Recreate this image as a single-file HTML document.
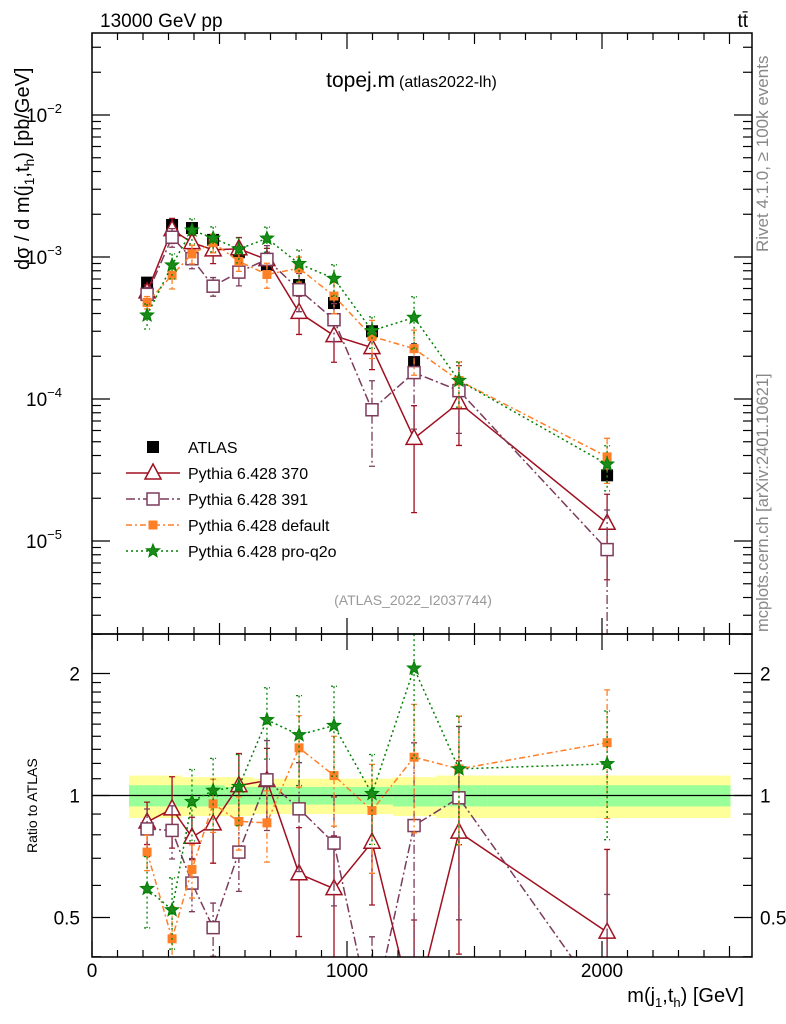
<!DOCTYPE html>
<html><head><meta charset="utf-8"><style>
html,body{margin:0;background:#fff;width:786px;height:1024px;overflow:hidden}
svg{display:block}
svg text{font-family:"Liberation Sans",sans-serif}
</style></head><body>
<svg id="c" width="786" height="1024" xmlns="http://www.w3.org/2000/svg">
<defs>
<clipPath id="cm"><rect x="92" y="33" width="660" height="601"/></clipPath>
<clipPath id="cr"><rect x="92" y="634" width="660" height="323"/></clipPath>
</defs>
<g id="bands" clip-path="url(#cr)"></g>
<g id="marks"></g>
<rect x="92" y="33" width="660" height="601" fill="none" stroke="#000" stroke-width="1.5"/>
<rect x="92" y="634" width="660" height="323" fill="none" stroke="#000" stroke-width="1.5"/>
<g id="axes"></g>
<text x="100" y="27" font-size="19">13000 GeV pp</text>
<text x="748" y="27" font-size="19" text-anchor="end">tt̄</text>
<text x="395" y="87" font-size="21" text-anchor="end">topej.m</text>
<text x="399" y="87" font-size="16">(atlas2022-lh)</text>
<text x="413" y="605" font-size="14" fill="#999" text-anchor="middle">(ATLAS_2022_I2037744)</text>
<text transform="translate(768,252) rotate(-90)" font-size="17" fill="#888">Rivet 4.1.0, ≥ 100k events</text>
<text transform="translate(768,632) rotate(-90)" font-size="16.5" fill="#888">mcplots.cern.ch [arXiv:2401.10621]</text>
<text transform="translate(29,270) rotate(-90)" font-size="20">dσ / d m(j<tspan font-size="14" dy="5">1</tspan><tspan dy="-5">,t</tspan><tspan font-size="14" dy="5">h</tspan><tspan dy="-5">) [pb/GeV]</tspan></text>
<text transform="translate(37,853) rotate(-90)" font-size="14">Ratio to ATLAS</text>
<text x="744" y="1002" font-size="20" text-anchor="end">m(j<tspan font-size="13" dy="5">1</tspan><tspan dy="-5">,t</tspan><tspan font-size="13" dy="5">h</tspan><tspan dy="-5">) [GeV]</tspan></text>
<g id="legend"></g>
</svg>
<script>
const centers=[216,314,392,475,576,686,812,949,1098,1263,1439,2020];
const edges=[145,265,350,430,520,630,750,880,1020,1180,1350,1550,2502];
const atlas=[6.6e-4,1.68e-3,1.6e-3,1.32e-3,1.08e-3,8.8e-4,6.35e-4,4.74e-4,3.0e-4,1.82e-4,1.16e-4,2.9e-5];
const atlasErr=[0.06,0.06,0.05,0.05,0.05,0.05,0.06,0.07,0.08,0.09,0.1,0.12];
const bandYellow=[0.12,0.12,0.11,0.11,0.11,0.1,0.1,0.1,0.1,0.11,0.12,0.12];
const bandGreen=[0.06,0.06,0.06,0.06,0.05,0.05,0.05,0.05,0.05,0.06,0.06,0.06];
const r370=[0.86,0.927,0.789,0.851,1.058,1.089,0.641,0.589,0.767,0.29,0.812,0.46];
const e370=[0.12,0.2,0.12,0.2,0.2,0.2,0.3,0.35,0.3,0.7,0.5,0.6];
const r391=[0.827,0.82,0.608,0.472,0.725,1.093,0.927,0.763,0.28,0.843,0.987,0.30];
const e391=[0.12,0.15,0.15,0.15,0.2,0.25,0.3,0.3,0.6,0.6,0.5,0.9];
const rDef=[0.725,0.443,0.657,0.954,0.863,0.856,1.311,1.12,0.918,1.243,1.163,1.35];
const eDef=[0.1,0.2,0.15,0.15,0.15,0.2,0.2,0.25,0.3,0.35,0.35,0.35];
const rPro=[0.589,0.522,0.966,1.029,1.052,1.537,1.411,1.488,1.01,2.06,1.163,1.197];
const ePro=[0.2,0.2,0.2,0.2,0.2,0.2,0.25,0.25,0.25,0.4,0.35,0.35];
const xTicks=[0,1000,2000];
const yTicks=[-5,-4,-3,-2];
const rTicks=[0.5,1,2];

const NS="http://www.w3.org/2000/svg";
const X=v=>92+v*0.255;
const Y=v=>115+(-2-Math.log10(v))*142;
const R=v=>795.5-Math.log2(v)*122;
function el(t,a,p){const e=document.createElementNS(NS,t);for(const k in a)e.setAttribute(k,a[k]);(p||document.getElementById('marks')).appendChild(e);return e;}

const bg=document.getElementById('bands');
edges.slice(0,-1).forEach((lo,i)=>{
 const hi=edges[i+1];
 const y=el('rect',{x:X(lo),y:R(1+bandYellow[i]),width:X(hi)-X(lo)+0.5,height:R(1-bandYellow[i])-R(1+bandYellow[i]),fill:'#ffff99'},bg);
 
 
 const g=el('rect',{x:X(lo),y:R(1+bandGreen[i]),width:X(hi)-X(lo)+0.5,height:R(1-bandGreen[i])-R(1+bandGreen[i]),fill:'#99ff99'},bg);
 
 
});
const one=el('line',{x1:92,x2:752,y1:R(1),y2:R(1),stroke:'#000','stroke-width':1.2},bg);



function marker(kind,col,x,y,g,leg){
 let m;
 if(kind==='atlas')m=el('rect',{x:x-6,y:y-6,width:12,height:12,fill:'#000'},g);
 else if(kind==='tri')m=el('polygon',{points:`${x},${y-9} ${x-8},${y+6} ${x+8},${y+6}`,fill:'#fff',stroke:col,'stroke-width':1.5},g);
 else if(kind==='sq')m=el('rect',{x:x-6,y:y-6,width:12,height:12,fill:'#fff',stroke:col,'stroke-width':1.5},g);
 else if(kind==='fsq')m=el('rect',{x:x-4.5,y:y-4.5,width:9,height:9,fill:col},g);
 else{let p=[];for(let i=0;i<10;i++){const a=-Math.PI/2+i*Math.PI/5,rr=i%2?3:7;p.push((x+rr*Math.cos(a)).toFixed(1)+','+(y+rr*Math.sin(a)).toFixed(1));}
  m=el('polygon',{points:p.join(' '),fill:'#1a8a1a',stroke:col,'stroke-width':1},g);}
 
 
}

const series=[
 {r:r370,e:e370,col:'#a01020',dash:'',kind:'tri',name:'Pythia 6.428 370',id:'pythia-370'},
 {r:r391,e:e391,col:'#7b3b5b',dash:'9,3,2,3',kind:'sq',name:'Pythia 6.428 391',id:'pythia-391'},
 {r:rDef,e:eDef,col:'#ff7f27',dash:'6,3,2,3',kind:'fsq',name:'Pythia 6.428 default',id:'pythia-default'},
 {r:rPro,e:ePro,col:'#008000',dash:'2,3',kind:'star',name:'Pythia 6.428 pro-q2o',id:'pythia-pro-q2o'}
];
const mainG=el('g',{'clip-path':'url(#cm)'});
const ratG=el('g',{'clip-path':'url(#cr)'});
atlas.forEach((v,i)=>{
 const b=el('line',{x1:X(centers[i]),x2:X(centers[i]),y1:Y(v*(1+atlasErr[i])),y2:Y(v*(1-atlasErr[i])),stroke:'#000','stroke-width':1.5},mainG);
 
 
 marker('atlas','#000',X(centers[i]),Y(v),mainG,'atlas-point');
});
series.forEach(s=>{
 [[mainG,i=>Y(atlas[i]*s.r[i]),(i,f)=>Y(Math.max(atlas[i]*s.r[i]*f,1e-9))],[ratG,i=>R(s.r[i]),(i,f)=>R(Math.max(s.r[i]*f,0.01))]].forEach(([g,fy,fe])=>{
  const pl=el('polyline',{points:centers.map((c,i)=>X(c)+','+fy(i)).join(' '),fill:'none',stroke:s.col,'stroke-width':1.5,'stroke-dasharray':s.dash},g);
  
  
  centers.forEach((c,i)=>{
   const x=X(c),y1=fe(i,1+s.e[i]),y2=Math.min(fe(i,1-s.e[i]),1000);
   const b=el('path',{d:`M${x},${y1}V${y2}M${x-3},${y1}h6M${x-3},${y2}h6`,stroke:s.col,'stroke-width':1.3,fill:'none','stroke-dasharray':s.dash},g);
   
   
   marker(s.kind,s.col,x,fy(i),g,s.id+'-point');
  });
 });
});
const lg=document.getElementById('legend');
marker('atlas','#000',153,447,lg,'legend-atlas-marker');
const lt=el('text',{x:188,y:453,'font-size':16},lg);lt.textContent='ATLAS';


series.forEach((s,i)=>{
 const y=473+i*26;
 const l=el('line',{x1:126,x2:180,y1:y,y2:y,stroke:s.col,'stroke-width':1.5,'stroke-dasharray':s.dash},lg);
 
 
 marker(s.kind,s.col,153,y,lg,'legend-'+s.id+'-marker');
 const t=el('text',{x:188,y:y+6,'font-size':16},lg);t.textContent=s.name;
 
 
});
const ax=document.getElementById('axes');
function tk(x1,y1,x2,y2){const t=el('line',{x1,y1,x2,y2,stroke:'#000','stroke-width':1.2},ax);}
for(let v=0;v<=2500;v+=100){const x=X(v),L=v%500===0?(v%1000===0?16:11):7;
 tk(x,634,x,634-L);tk(x,33,x,33+L);tk(x,957,x,957-L);tk(x,634,x,634+L);}
xTicks.forEach(v=>{const t=el('text',{x:X(v),y:977,'font-size':19,'text-anchor':'middle'},ax);t.textContent=v;
 
 });
for(let d=-6;d<=-2;d++)for(let m=1;m<10;m++){const v=m*Math.pow(10,d),y=Y(v);if(y<33||y>634)continue;const L=m===1?18:9;tk(92,y,92+L,y);tk(752,y,752-L,y);}
yTicks.forEach(d=>{const t=el('text',{x:62,y:Y(Math.pow(10,d))+7,'font-size':19,'text-anchor':'end'},ax);
 t.innerHTML='10<tspan font-size="13" dy="-9">'+(d<0?'−':'')+Math.abs(d)+'</tspan>';
 
 });
[0.4,0.5,0.6,0.7,0.8,0.9,1,1.1,1.2,1.3,1.4,1.5,1.6,1.7,1.8,1.9,2,2.5].forEach(v=>{const y=R(v);if(y<634||y>957)return;const L=rTicks.includes(v)?18:9;tk(92,y,92+L,y);tk(752,y,752-L,y);});
rTicks.forEach(v=>{[[80,'end'],[760,'start']].forEach(([x,a])=>{const t=el('text',{x,y:R(v)+7,'font-size':19,'text-anchor':a},ax);t.textContent=v;
 
 });});
</script>
</body></html>
